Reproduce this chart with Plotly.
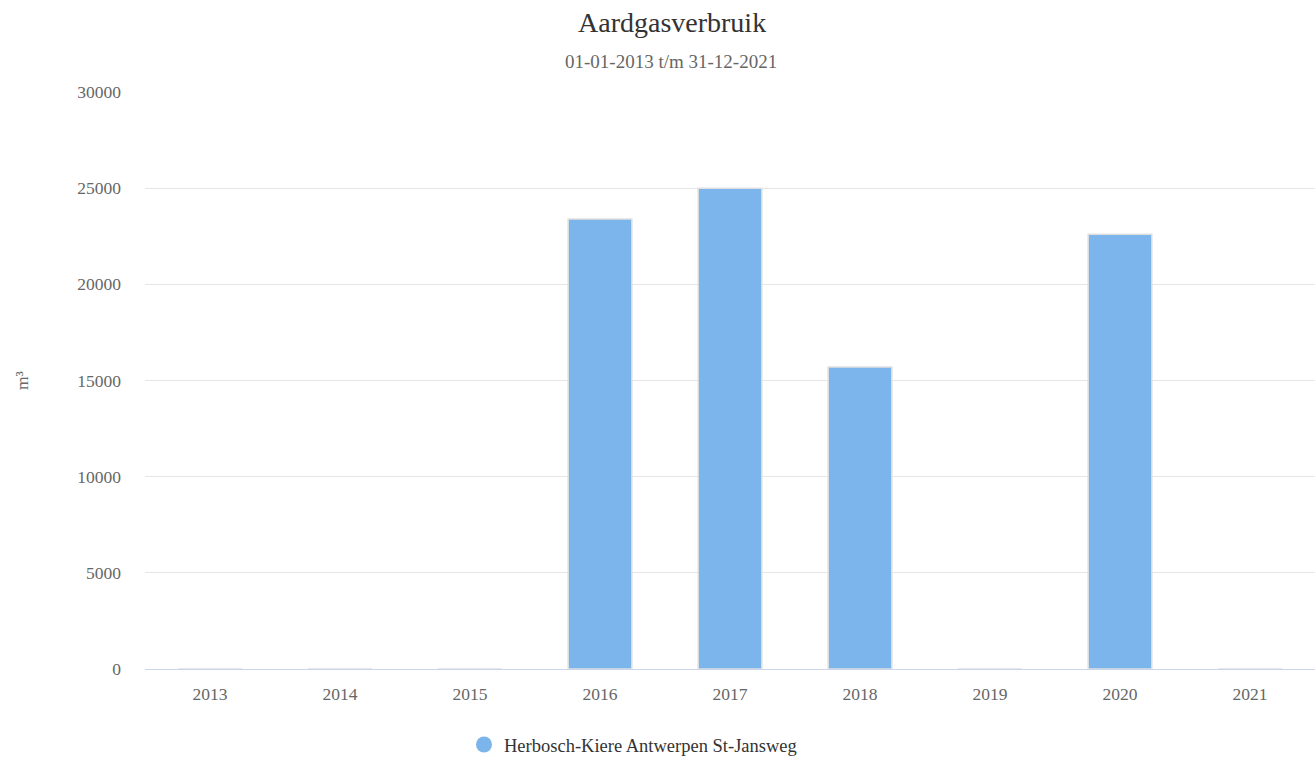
import plotly.graph_objects as go

years = ["2013", "2014", "2015", "2016", "2017", "2018", "2019", "2020", "2021"]
values = [0, 0, 0, 23400, 25000, 15700, 0, 22600, 0]
series_name = "Herbosch-Kiere Antwerpen St-Jansweg"
y_ticks = [0, 5000, 10000, 15000, 20000, 25000, 30000]
title_text = "Aardgasverbruik"
subtitle_text = "01-01-2013 t/m 31-12-2021"
y_title = "m³"

color = "#7cb5ec"
font_family = "Liberation Serif"

W, H = 1316, 758
L, R, T, B = 145, 1, 92, 89
PW, PH = W - L - R, H - T - B


def px(fx):
    return (fx - L) / PW


def py(fy):
    return (H - B - fy) / PH


fig = go.Figure()
fig.add_trace(go.Bar(
    x=years, y=values, name=series_name,
    marker=dict(color=color, line=dict(color="#e0e0e0", width=1.5)),
    width=0.49, showlegend=False,
))
fig.add_trace(go.Scatter(
    x=[None], y=[None], mode="markers", name=series_name,
    marker=dict(color=color, size=16, symbol="circle"),
    showlegend=True,
))

fig.update_layout(
    width=W, height=H,
    paper_bgcolor="white", plot_bgcolor="white",
    margin=dict(l=L, r=R, t=T, b=B),
    font=dict(family=font_family, color="#666666", size=17.5),
    xaxis=dict(
        showgrid=False, showline=True, linecolor="#ccd6eb", linewidth=1,
        ticks="", tickfont=dict(size=17.5, color="#666666"),
        ticklabelstandoff=9,
    ),
    yaxis=dict(
        range=[0, 30000], tickvals=y_ticks, ticktext=[str(v) for v in y_ticks],
        showgrid=True, gridcolor="#e6e6e6", gridwidth=1,
        zeroline=False, showline=False, ticks="",
        tickfont=dict(size=17.5, color="#666666"),
        ticklabelstandoff=23,
    ),
    legend=dict(
        orientation="h", xref="container", yref="container",
        x=464 / W, xanchor="left", y=1 - 745 / H, yanchor="middle",
        font=dict(size=18.5, color="#333333"),
        itemsizing="trace",
    ),
    annotations=[
        dict(text=title_text, x=px(672), y=py(23), xref="paper", yref="paper",
             xanchor="center", yanchor="middle", showarrow=False,
             font=dict(size=28, color="#333333", family=font_family)),
        dict(text=subtitle_text, x=px(671), y=py(61), xref="paper", yref="paper",
             xanchor="center", yanchor="middle", showarrow=False,
             font=dict(size=19, color="#666666", family=font_family)),
        dict(text=y_title, x=px(22), y=py(381), xref="paper", yref="paper",
             xanchor="center", yanchor="middle", showarrow=False, textangle=-90,
             font=dict(size=17.5, color="#666666", family=font_family)),
    ],
)

fig.write_html(
    "out.html",
    config={"displayModeBar": False},
    post_script="document.body.style.margin='0';document.body.style.overflow='hidden';",
)
